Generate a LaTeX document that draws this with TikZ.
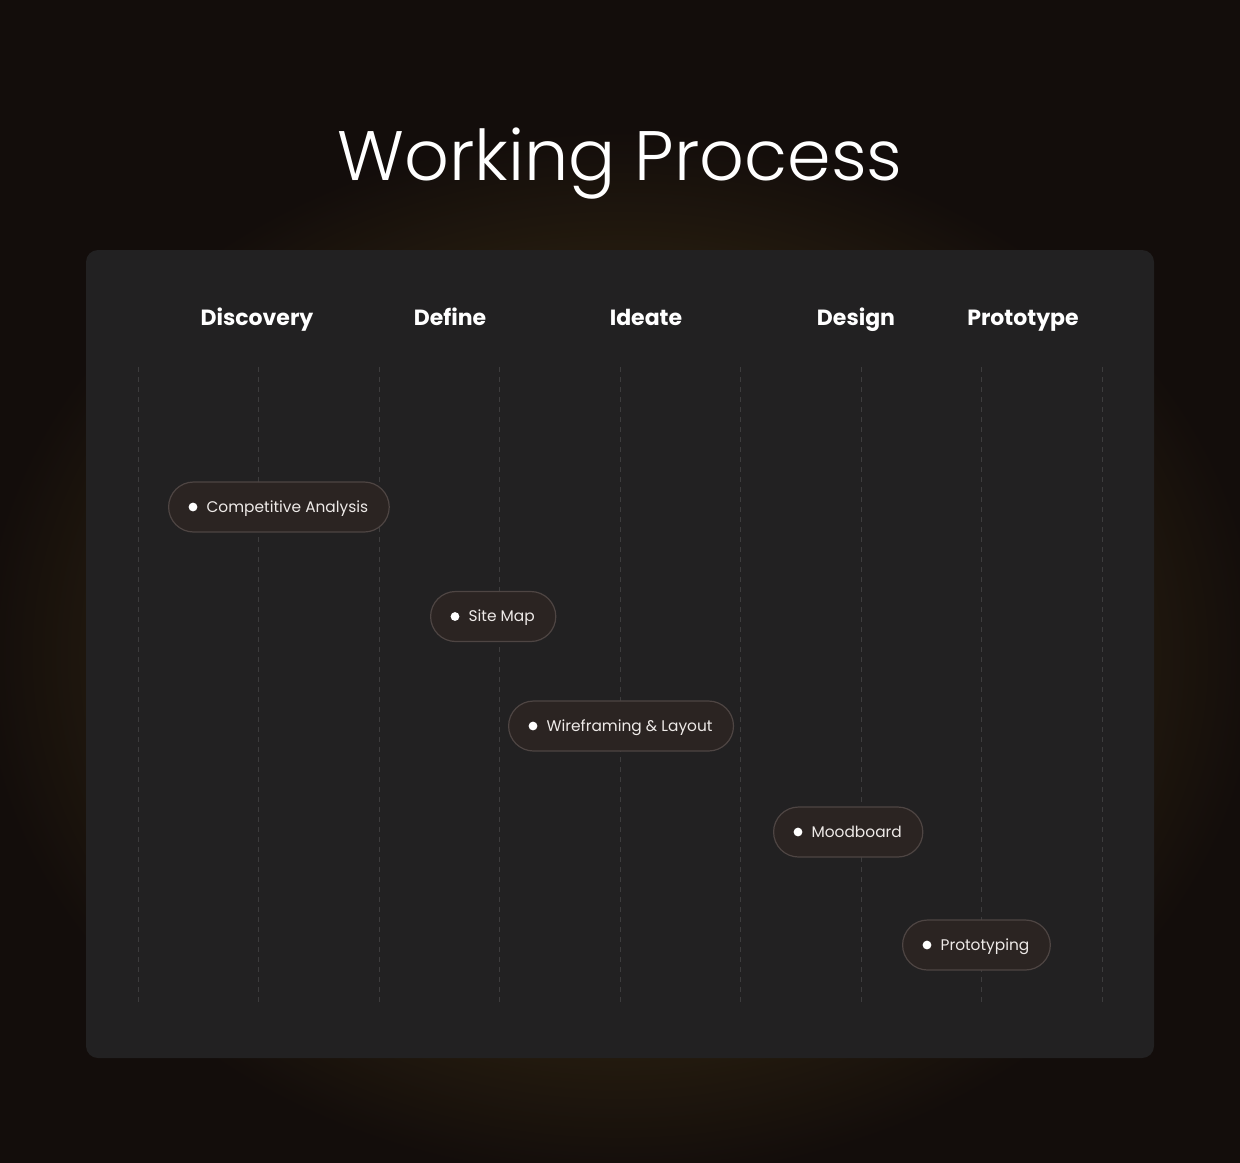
\documentclass[tikz,border=0pt]{standalone}
\usepackage{fontspec}
\setmainfont{Poppins}
\newfontfamily\titlefont{Poppins Light}
\usepackage{xcolor}
\usepackage{tikz}
\usetikzlibrary{positioning}

\definecolor{bgdark}{HTML}{130D0B}
\definecolor{glow}{HTML}{2E2310}
\definecolor{cardfill}{HTML}{222122}
\definecolor{gridline}{HTML}{3D3C3D}
\definecolor{pillfill}{HTML}{2B2422}
\definecolor{pillline}{HTML}{4E4543}
\definecolor{pilltext}{HTML}{EEEAE8}
\pgfdeclareradialshading{haze}{\pgfpoint{0bp}{0bp}}{color(0bp)=(glow); color(15bp)=(glow); color(25bp)=(bgdark); color(50bp)=(bgdark)}

\begin{document}
\begin{tikzpicture}[x=0.5pt, y=-0.5pt,
    phase/.style={anchor=base, text=white, font=\fontsize{11}{13}\selectfont\bfseries},
    pill/.style={anchor=west, draw=pillline, fill=pillfill, line width=0.6pt, rounded corners=12.5pt, minimum height=25pt, inner xsep=10.5pt, text height=5.4pt, text depth=0pt, text=pilltext, font=\fontsize{7.7}{9}\selectfont},
    gridstroke/.style={draw=gridline, line width=0.5pt, dash pattern=on 2.5pt off 2.5pt}]
        % Background
        \useasboundingbox (0,0) rectangle (1240,1162);
        \fill[bgdark] (0,0) rectangle (1240,1162);
        \begin{scope}
            \clip (0,0) rectangle (1240,1162);
            \shade[shading=haze] (-20,130) rectangle (1260,1180);
        \end{scope}
        % Title
        \node[anchor=base, text=white, font=\titlefont\fontsize{35}{42}\selectfont] (title) at (620,180) {Working Process};
        % Card
        \fill[cardfill, rounded corners=6pt] (86,250) rectangle (1154,1058);
        % Grid
        \foreach \x in {138,258.5,379,499.5,620,740.5,861,981.5,1102}
            \draw[gridstroke] (\x,367) -- (\x,1005);
        % Phases
        \node[phase] (discovery) at (257,325) {Discovery};
        \node[phase] (define) at (450,325) {Define};
        \node[phase] (ideate) at (646,325) {Ideate};
        \node[phase] (design) at (856,325) {Design};
        \node[phase] (prototype) at (1023,325) {Prototype};
        % Tasks
        \node[pill] (analysis) at (168,507) {\hspace*{8.5pt}Competitive Analysis};
        \node[pill] (sitemap) at (430,616.5) {\hspace*{8.5pt}Site Map};
        \node[pill] (wireframe) at (508,726) {\hspace*{8.5pt}Wireframing \& Layout};
        \node[pill] (moodboard) at (773,832) {\hspace*{8.5pt}Moodboard};
        \node[pill] (prototyping) at (902,945) {\hspace*{8.5pt}Prototyping};
        % Dots
        \foreach \t in {analysis,sitemap,wireframe,moodboard,prototyping}
            \fill[white] ([xshift=12.5pt]\t.west) circle (2.2pt);
    \end{tikzpicture}
\end{document}
